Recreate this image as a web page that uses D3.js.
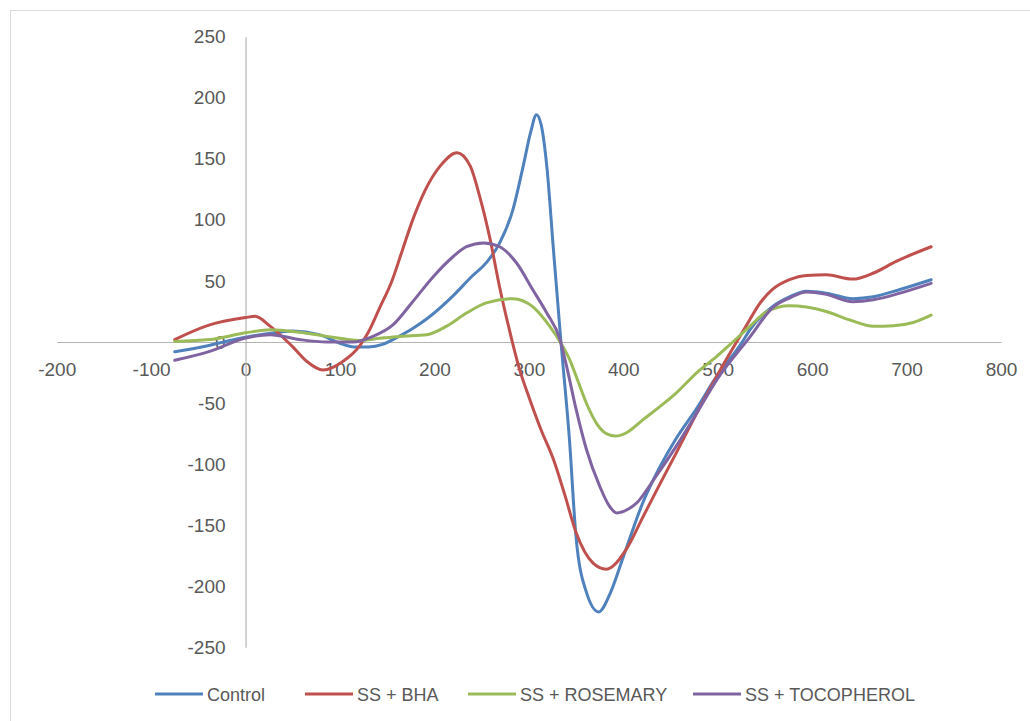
<!DOCTYPE html>
<html>
<head>
<meta charset="utf-8">
<script src="https://cdn.jsdelivr.net/npm/d3@7"></script>
<style>
  html, body { margin: 0; padding: 0; background: #fff; }
  svg { display: block; font-family: "Liberation Sans", Arial, sans-serif; }
</style>
</head>
<body>
<svg id="chart" width="1030" height="721"></svg>
<script>
// Axis ticks
const xTicks = [-200, -100, 0, 100, 200, 300, 400, 500, 600, 700, 800];
const yTicks = [-250, -200, -150, -100, -50, 0, 50, 100, 150, 200, 250];

// Series names and colours
const seriesNames = ["Control", "SS + BHA", "SS + ROSEMARY", "SS + TOCOPHEROL"];
const seriesColors = ["#4F81BD", "#C0504D", "#9BBB59", "#8064A2"];

// Control
const controlX = [-75, -40, 0, 25, 50, 78, 100, 115, 130, 145, 156, 177, 192, 220, 240, 255, 269, 283, 294, 302, 308, 313, 319, 326, 334, 343, 350, 361, 374, 386, 400, 421, 439, 456, 478, 499, 526, 534, 558, 576, 594, 615, 643, 665, 693, 726];
const controlY = [-8, -3, 4, 7, 9, 6, -1, -4, -4, -2, 2, 11, 19, 38, 54, 65, 81, 108, 144, 172, 186, 178, 144, 76, 0, -80, -160, -205, -221, -206, -176, -131, -102, -79, -54, -28, 0, 10, 29, 37, 41.5, 40, 35.5, 37, 43, 51];

// SS + BHA
const bhaX = [-75, -38, 0, 10, 26, 50, 65, 82, 103, 121, 130, 142, 155, 166, 177, 190, 206, 224, 238, 248, 259, 269, 280, 290, 301, 313, 326, 338, 350, 368, 382, 403, 421, 439, 456, 478, 499, 520, 530, 545, 558, 576, 594, 615, 643, 665, 689, 726];
const bhaY = [2, 14, 20, 21, 13, -4, -16, -23, -16, -3, 8, 28, 50, 75, 100, 124, 144, 155, 144, 119, 84, 45, 8, -22, -47, -72, -96, -125, -156, -181, -186, -170, -143, -116, -91, -58, -28, 0, 13, 32, 43, 51, 54.5, 55, 51.5, 56.5, 66, 78];

// SS + ROSEMARY
const rosemaryX = [-75, -38, 0, 26, 57, 86, 121, 142, 163, 192, 213, 234, 255, 283, 304, 322, 334, 343, 352, 362, 372, 382, 392, 403, 421, 439, 456, 478, 499, 516, 534, 552, 576, 594, 615, 640, 665, 686, 707, 726];
const rosemaryY = [0.5, 2, 7.5, 10, 8, 4.6, 1.3, 3, 4.6, 6, 13, 23.7, 32, 35.5, 29, 13, -1, -14, -32, -52, -67, -75, -77, -74.5, -63.6, -52.7, -41.8, -25, -11.8, 0, 12.8, 25, 29.7, 28.6, 25, 18, 12.8, 13.3, 16, 22];

// SS + TOCOPHEROL
const tocoX = [-75, -38, 0, 26, 57, 86, 114, 135, 156, 177, 199, 220, 234, 252, 269, 287, 304, 319, 333, 340, 350, 361, 375, 385, 393, 405, 414, 432, 456, 478, 499, 534, 558, 576, 594, 615, 643, 665, 693, 726];
const tocoY = [-15, -7.7, 3.3, 6, 2, 0, 0, 4.6, 14, 33, 53.7, 70, 78, 81, 78, 64.7, 43, 23.7, 2, -20, -55, -88, -118, -134, -140, -137, -132, -113, -85.5, -58, -31, 4, 28, 36, 41, 39, 33, 34.6, 40, 48];

const seriesX = [controlX, bhaX, rosemaryX, tocoX];
const seriesY = [controlY, bhaY, rosemaryY, tocoY];

const svg = d3.select("#chart");
const textColor = "#595959";
const axisColor = "#b4b4b4";

// Chart frame
svg.append("rect")
  .attr("x", 10.5).attr("y", 10.5)
  .attr("width", 1040).attr("height", 740)
  .attr("fill", "none").attr("stroke", "#d9d9d9").attr("stroke-width", 1);

const x = d3.scaleLinear().domain([-200, 800]).range([56.7, 1001]);
const y = d3.scaleLinear().domain([-250, 250]).range([647.3, 36.7]);

// Plain hyphen-minus labels
const fmt = d => String(d);

// X axis through y = 0
const xAxis = svg.append("g")
  .attr("transform", `translate(0,${y(0)})`)
  .call(d3.axisBottom(x).tickValues(xTicks).tickSize(0).tickPadding(21).tickFormat(fmt));
xAxis.select(".domain").attr("stroke", axisColor).attr("stroke-width", 1.2);
xAxis.selectAll("text").attr("fill", textColor).attr("font-size", 19).attr("font-family", "Liberation Sans, Arial, sans-serif");

// Y axis through x = 0
const yAxis = svg.append("g")
  .attr("transform", `translate(${x(0)},0)`)
  .call(d3.axisLeft(y).tickValues(yTicks).tickSize(0).tickPadding(20).tickFormat(fmt));
yAxis.select(".domain").attr("stroke", axisColor).attr("stroke-width", 1.2);
yAxis.selectAll("text").attr("fill", textColor).attr("font-size", 19).attr("font-family", "Liberation Sans, Arial, sans-serif");

// Series lines
const line = d3.line()
  .x(d => x(d[0]))
  .y(d => y(d[1]))
  .curve(d3.curveMonotoneX);

seriesNames.forEach((name, i) => {
  const pts = seriesX[i].map((v, k) => [v, seriesY[i][k]]);
  svg.append("path")
    .datum(pts)
    .attr("fill", "none")
    .attr("stroke", seriesColors[i])
    .attr("stroke-width", 3)
    .attr("stroke-linejoin", "round")
    .attr("stroke-linecap", "round")
    .attr("d", line);
});

// Legend
const legendLineStart = [155, 305, 468, 693];
const legend = svg.append("g");
seriesNames.forEach((name, i) => {
  const lx = legendLineStart[i];
  legend.append("line")
    .attr("x1", lx).attr("x2", lx + 48)
    .attr("y1", 694).attr("y2", 694)
    .attr("stroke", seriesColors[i]).attr("stroke-width", 3);
  legend.append("text")
    .attr("x", lx + 52).attr("y", 701)
    .attr("fill", textColor)
    .attr("font-size", 18)
    .text(name);
});
</script>
</body>
</html>
